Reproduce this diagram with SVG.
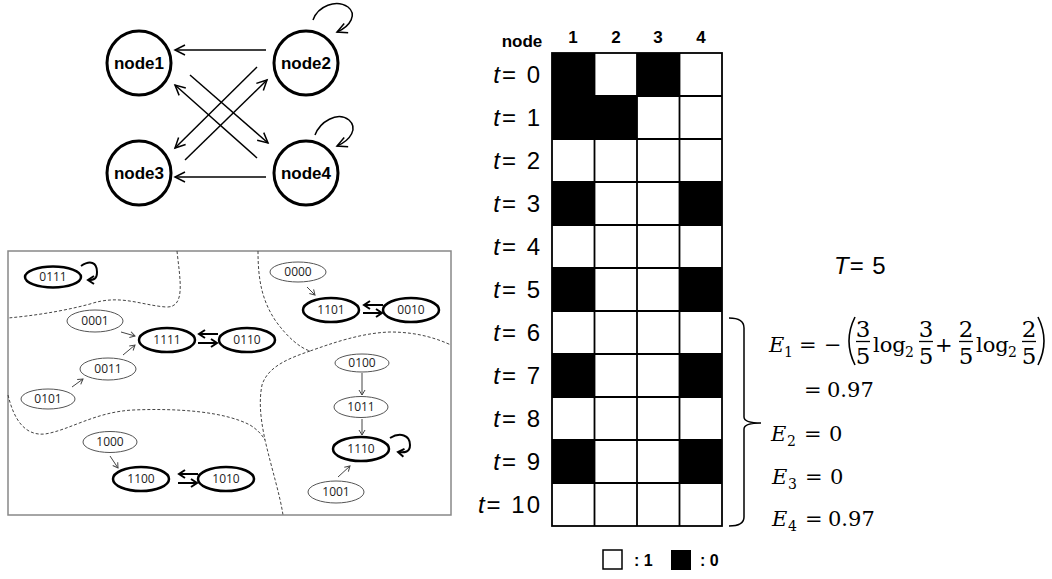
<svg xmlns="http://www.w3.org/2000/svg" width="1052" height="579" viewBox="0 0 1052 579">
<style>
.nc{fill:#fff;stroke:#000;stroke-width:3}
.nt{font-family:"Liberation Sans",Arial,sans-serif;font-weight:bold;font-size:17px;text-anchor:middle}
.ln{stroke:#000;stroke-width:1.5;fill:none}
.thin{fill:#fff;stroke:#555;stroke-width:1}
.thick{fill:#fff;stroke:#000;stroke-width:2.5}
.et{font-family:"Open Sans","Liberation Sans",sans-serif;font-size:12px;text-anchor:middle;fill:#222}
.sa{stroke:#444;stroke-width:1;fill:none}
.ha{stroke:#000;stroke-width:2;fill:none}
.dash{stroke:#444;stroke-width:1;fill:none;stroke-dasharray:3,2}
.hd{font-family:"Liberation Sans",Arial,sans-serif;font-weight:bold;font-size:17px;text-anchor:middle}
.rl{font-family:"Liberation Sans",Arial,sans-serif;font-size:24px;text-anchor:end;letter-spacing:2px}
.m{font-family:"DejaVu Serif","Liberation Serif",serif;font-size:21px}
.ms{font-family:"DejaVu Serif","Liberation Serif",serif;font-size:14px}
.mf{font-family:"DejaVu Serif","Liberation Serif",serif;font-size:23px;text-anchor:middle}
.bar{stroke:#000;stroke-width:1.3}
</style>
<defs>
<marker id="ah" markerUnits="userSpaceOnUse" markerWidth="14" markerHeight="12" refX="11" refY="6" orient="auto"><path d="M1,1 L11,6 L1,11" fill="none" stroke="#000" stroke-width="1.5"/></marker>
<marker id="sh" markerUnits="userSpaceOnUse" markerWidth="8" markerHeight="8" refX="6" refY="4" orient="auto"><path d="M1,1 L6,4 L1,7" fill="none" stroke="#444" stroke-width="1"/></marker>
<marker id="th" markerUnits="userSpaceOnUse" markerWidth="10" markerHeight="10" refX="7" refY="5" orient="auto"><path d="M1,1 L7,5 L1,9" fill="none" stroke="#000" stroke-width="2"/></marker>
</defs>
<rect width="1052" height="579" fill="#fff"/>

<!-- top network -->
<g id="connectors">
<path class="ln" d="M266,50 L175,50" marker-end="url(#ah)"/>
<path class="ln" d="M266,177 L175,177" marker-end="url(#ah)"/>
<path class="ln" d="M190,75 L268,143" marker-end="url(#ah)"/>
<path class="ln" d="M257,158 L175,85" marker-end="url(#ah)"/>
<path class="ln" d="M257,67 L175,148" marker-end="url(#ah)"/>
<path class="ln" d="M185,160 L267,80" marker-end="url(#ah)"/>
<path class="ln" d="M313,20 C318,6 336,-1 348,7 C357,14 351,26 337,32" marker-end="url(#ah)"/>
<path class="ln" d="M315,135 C320,122 337,111 349,120 C358,128 351,140 337,146" marker-end="url(#ah)"/>
</g>
<g id="node1"><circle class="nc" cx="139" cy="63" r="32"/><text class="nt" x="139" y="69">node1</text></g>
<g id="node2"><circle class="nc" cx="306" cy="63" r="32"/><text class="nt" x="306" y="69">node2</text></g>
<g id="node3"><circle class="nc" cx="139" cy="173" r="32"/><text class="nt" x="139" y="179">node3</text></g>
<g id="node4"><circle class="nc" cx="306" cy="173" r="32"/><text class="nt" x="306" y="179">node4</text></g>

<!-- state space box -->
<g id="statebox">
<rect x="8" y="251" width="443" height="264" fill="#fff" stroke="#888" stroke-width="1.5"/>
<path class="dash" d="M177,251 C180,280 186,308 166,307 C140,305 120,294 90,304 C60,312 30,316 8,318"/>
<path class="dash" d="M258,251 C258,280 262,300 275,320 C287,337 300,348 310,351 C330,344 360,333 390,332 C420,332 440,340 451,345"/>
<path class="dash" d="M310,351 C290,358 268,366 262,385 C258,405 262,425 265,440 C272,470 280,495 283,515"/>
<path class="dash" d="M8,395 C14,420 25,436 45,434 C70,430 95,412 133,410 C180,408 225,412 250,425 C258,430 262,435 265,440"/>
</g>
<g id="state-connectors">
<path class="sa" d="M121,332 L135,336" marker-end="url(#sh)"/>
<path class="sa" d="M123,355 L135,345" marker-end="url(#sh)"/>
<path class="sa" d="M72,387 L83,379" marker-end="url(#sh)"/>
<path class="sa" d="M307,287 L315,295" marker-end="url(#sh)"/>
<path class="sa" d="M362,373 L362,395" marker-end="url(#sh)"/>
<path class="sa" d="M362,419 L362,435" marker-end="url(#sh)"/>
<path class="sa" d="M338,477 L350,466" marker-end="url(#sh)"/>
<path class="sa" d="M110,456 L118,468" marker-end="url(#sh)"/>
<path class="ha" d="M218,334 L199,334" marker-end="url(#th)"/>
<path class="ha" d="M198,343 L217,343" marker-end="url(#th)"/>
<path class="ha" d="M383,305 L364,305" marker-end="url(#th)"/>
<path class="ha" d="M363,313 L382,313" marker-end="url(#th)"/>
<path class="ha" d="M198,474 L179,474" marker-end="url(#th)"/>
<path class="ha" d="M178,483 L197,483" marker-end="url(#th)"/>
<path class="ha" d="M81,266 C90,260 97,262 97,272 C97,279 94,280 88,280" marker-end="url(#th)"/>
<path class="ha" d="M390,438 C400,432 410,435 410,445 C410,452 405,453 398,452" marker-end="url(#th)"/>
</g>
<g id="s0111"><ellipse class="thick" cx="53" cy="277" rx="28" ry="10.5"/><text class="et" x="53" y="281">0111</text></g>
<g id="s0001"><ellipse class="thin" cx="95" cy="321" rx="28" ry="11"/><text class="et" x="95" y="325">0001</text></g>
<g id="s1111"><ellipse class="thick" cx="167" cy="340" rx="28" ry="12"/><text class="et" x="167" y="344">1111</text></g>
<g id="s0110"><ellipse class="thick" cx="247" cy="340" rx="28" ry="12"/><text class="et" x="247" y="344">0110</text></g>
<g id="s0011"><ellipse class="thin" cx="108" cy="369" rx="28" ry="11"/><text class="et" x="108" y="373">0011</text></g>
<g id="s0101"><ellipse class="thin" cx="48" cy="399" rx="27" ry="10"/><text class="et" x="48" y="403">0101</text></g>
<g id="s0000"><ellipse class="thin" cx="298" cy="272" rx="28" ry="10"/><text class="et" x="298" y="276">0000</text></g>
<g id="s1101"><ellipse class="thick" cx="331" cy="310" rx="28" ry="12"/><text class="et" x="331" y="314">1101</text></g>
<g id="s0010"><ellipse class="thick" cx="411" cy="310" rx="28" ry="12"/><text class="et" x="411" y="314">0010</text></g>
<g id="s0100"><ellipse class="thin" cx="362" cy="363" rx="27" ry="9"/><text class="et" x="362" y="367">0100</text></g>
<g id="s1011"><ellipse class="thin" cx="361" cy="407" rx="27" ry="10.5"/><text class="et" x="361" y="411">1011</text></g>
<g id="s1110"><ellipse class="thick" cx="361" cy="449" rx="28" ry="12"/><text class="et" x="361" y="453">1110</text></g>
<g id="s1001"><ellipse class="thin" cx="336" cy="492" rx="28" ry="11"/><text class="et" x="336" y="496">1001</text></g>
<g id="s1000"><ellipse class="thin" cx="110" cy="442" rx="27" ry="10.5"/><text class="et" x="110" y="446">1000</text></g>
<g id="s1100"><ellipse class="thick" cx="141" cy="479" rx="28" ry="12"/><text class="et" x="141" y="483">1100</text></g>
<g id="s1010"><ellipse class="thick" cx="226" cy="479" rx="28" ry="12"/><text class="et" x="226" y="483">1010</text></g>

<!-- grid -->
<g id="grid">
<text class="hd" x="522" y="47">node</text>
<text class="hd" x="573" y="43">1</text>
<text class="hd" x="616" y="43">2</text>
<text class="hd" x="658" y="43">3</text>
<text class="hd" x="701" y="43">4</text>
<rect x="552" y="53" width="170" height="473" fill="#fff"/>
<g fill="#000">
<rect x="552" y="53" width="42.5" height="43"/><rect x="637" y="53" width="42.5" height="43"/>
<rect x="552" y="96" width="85" height="43"/>
<rect x="552" y="182" width="42.5" height="43"/><rect x="679.5" y="182" width="42.5" height="43"/>
<rect x="552" y="268" width="42.5" height="43"/><rect x="679.5" y="268" width="42.5" height="43"/>
<rect x="552" y="354" width="42.5" height="43"/><rect x="679.5" y="354" width="42.5" height="43"/>
<rect x="552" y="440" width="42.5" height="43"/><rect x="679.5" y="440" width="42.5" height="43"/>
</g>
<g stroke="#000" stroke-width="1.8" fill="none">
<rect x="552" y="53" width="170" height="473"/>
<path d="M594.5,53V526M637,53V526M679.5,53V526"/>
<path d="M552,96H722M552,139H722M552,182H722M552,225H722M552,268H722M552,311H722M552,354H722M552,397H722M552,440H722M552,483H722"/>
</g>
<text class="rl" x="542" y="83"><tspan font-style="italic">t</tspan>= 0</text>
<text class="rl" x="542" y="126"><tspan font-style="italic">t</tspan>= 1</text>
<text class="rl" x="542" y="169"><tspan font-style="italic">t</tspan>= 2</text>
<text class="rl" x="542" y="212"><tspan font-style="italic">t</tspan>= 3</text>
<text class="rl" x="542" y="255"><tspan font-style="italic">t</tspan>= 4</text>
<text class="rl" x="542" y="298"><tspan font-style="italic">t</tspan>= 5</text>
<text class="rl" x="542" y="341"><tspan font-style="italic">t</tspan>= 6</text>
<text class="rl" x="542" y="384"><tspan font-style="italic">t</tspan>= 7</text>
<text class="rl" x="542" y="427"><tspan font-style="italic">t</tspan>= 8</text>
<text class="rl" x="542" y="470"><tspan font-style="italic">t</tspan>= 9</text>
<text class="rl" x="542" y="513"><tspan font-style="italic">t</tspan>= 10</text>
</g>

<!-- brace and formulas -->
<g id="formulas">
<path d="M729,318 Q744,318 744,328 L744,417 Q744,423 761,423 M744,429 Q744,423 761,423 M744,429 L744,517 Q744,526 729,526" fill="none" stroke="#000" stroke-width="1.5"/>
<text x="834" y="274" font-family="Liberation Sans,Arial,sans-serif" font-size="24" letter-spacing="1"><tspan font-style="italic">T</tspan>= 5</text>
<text class="m" x="769" y="352" font-style="italic">E</text><text class="ms" x="784" y="357">1</text>
<text class="m" x="799" y="352">=</text>
<text class="m" x="824" y="352">−</text>
<path d="M855,317 Q843,341 855,365" fill="none" stroke="#000" stroke-width="1.6"/>
<text class="mf" x="863" y="337">3</text><line class="bar" x1="856" y1="341.5" x2="870" y2="341.5"/><text class="mf" x="863" y="364">5</text>
<text class="m" x="873" y="352" font-size="20">log</text><text class="ms" x="905" y="357">2</text>
<text class="mf" x="926" y="337">3</text><line class="bar" x1="919" y1="341.5" x2="933" y2="341.5"/><text class="mf" x="926" y="364">5</text>
<text class="m" x="935" y="352">+</text>
<text class="mf" x="966" y="337">2</text><line class="bar" x1="959" y1="341.5" x2="973" y2="341.5"/><text class="mf" x="966" y="364">5</text>
<text class="m" x="976" y="352" font-size="20">log</text><text class="ms" x="1008" y="357">2</text>
<text class="mf" x="1029" y="337">2</text><line class="bar" x1="1022" y1="341.5" x2="1036" y2="341.5"/><text class="mf" x="1029" y="364">5</text>
<path d="M1038,317 Q1050,341 1038,365" fill="none" stroke="#000" stroke-width="1.6"/>
<text class="m" x="804" y="397">=</text><text class="m" x="827" y="397">0.97</text>
<text class="m" x="771" y="441" font-style="italic">E</text><text class="ms" x="787" y="446">2</text>
<text class="m" x="804" y="441">=</text><text class="m" x="829" y="441">0</text>
<text class="m" x="772" y="484" font-style="italic">E</text><text class="ms" x="788" y="489">3</text>
<text class="m" x="805" y="484">=</text><text class="m" x="830" y="484">0</text>
<text class="m" x="772" y="526" font-style="italic">E</text><text class="ms" x="788" y="531">4</text>
<text class="m" x="805" y="526">=</text><text class="m" x="828" y="526">0.97</text>
</g>

<!-- legend -->
<g id="legend">
<rect x="603" y="550" width="19" height="19" fill="#fff" stroke="#000" stroke-width="1.5"/>
<text x="634" y="566" font-family="Liberation Sans,Arial,sans-serif" font-weight="bold" font-size="16">: 1</text>
<rect x="671" y="550" width="20" height="20" fill="#000"/>
<text x="700" y="566" font-family="Liberation Sans,Arial,sans-serif" font-weight="bold" font-size="16">: 0</text>
</g>
</svg>
